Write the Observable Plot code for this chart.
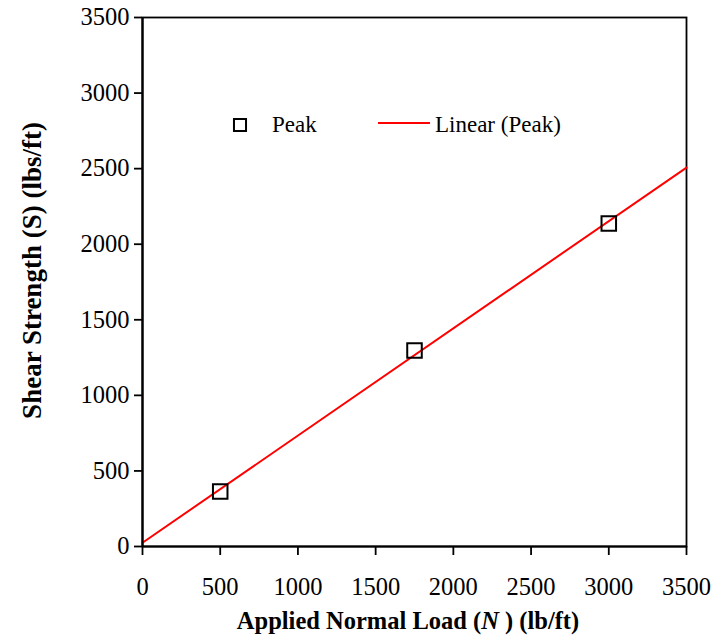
<!DOCTYPE html>
<html>
<head>
<meta charset="utf-8">
<script src="https://cdn.jsdelivr.net/npm/d3@7"></script>
<script src="https://cdn.jsdelivr.net/npm/@observablehq/plot@0.6"></script>
<style>
  html, body { margin: 0; padding: 0; background: #fff; overflow: hidden; }
  #chart svg { display: block; }
</style>
</head>
<body>
<div id="chart"></div>
<script>
// Direct shear test results: applied normal load vs. peak shear strength
const normalLoads = [500, 1750, 3000];      // lb/ft
const peakStrengths = [364, 1297, 2137];    // lbs/ft
const xTickValues = [0, 500, 1000, 1500, 2000, 2500, 3000, 3500];
const yTickValues = [0, 500, 1000, 1500, 2000, 2500, 3000, 3500];
const axisDomain = [0, 3500];

const peaks = normalLoads.map((n, i) => ({n, s: peakStrengths[i]}));

// Least-squares trendline, extended across the full load axis
const meanN = d3.mean(normalLoads);
const meanS = d3.mean(peakStrengths);
const slope = d3.sum(peaks, d => (d.n - meanN) * (d.s - meanS)) /
              d3.sum(peaks, d => (d.n - meanN) ** 2);
const intercept = meanS - slope * meanN;
const trend = axisDomain.map(n => ({n, s: intercept + slope * n}));

const serif = "'Liberation Serif', 'Times New Roman', serif";

const plot = Plot.plot({
  width: 725,
  height: 637,
  marginLeft: 142,
  marginRight: 39,
  marginTop: 17,
  marginBottom: 91,
  style: {fontFamily: serif, fontSize: "24.5px", color: "#000", background: "#fff"},
  x: {domain: axisDomain, ticks: xTickValues, label: null},
  y: {domain: axisDomain, ticks: yTickValues, label: null},
  marks: [
    Plot.frame({stroke: "#000", strokeWidth: 1.8}),
    Plot.line(trend, {x: "n", y: "s", stroke: "#ff0000", strokeWidth: 2}),
    Plot.dot(peaks, {x: "n", y: "s", symbol: "square", r: 8.2, stroke: "#000", strokeWidth: 2, fill: "none"}),
    Plot.axisX({ticks: xTickValues, tickSize: 9, tickPadding: 22, tickFormat: d => String(d), stroke: "#000", strokeWidth: 1.8, fontSize: 24.5}),
    Plot.axisY({ticks: yTickValues, tickSize: 8, tickPadding: 5, tickFormat: d => String(d), stroke: "#000", strokeWidth: 1.8, fontSize: 24.5}),
    Plot.ruleX([0], {stroke: "#000", strokeWidth: 2.2}),
    Plot.ruleY([0], {stroke: "#000", strokeWidth: 2.2})
  ]
});

document.getElementById("chart").appendChild(plot);

const svg = d3.select(plot);
const xs = plot.scale("x");
const ys = plot.scale("y");
const [x0, x1] = xs.range;
const [yBottom, yTop] = ys.range;

// Axis titles (bold, with italic symbol N)
const xTitle = svg.append("text")
  .attr("x", (x0 + x1) / 2 - 6)
  .attr("y", 629)
  .attr("text-anchor", "middle")
  .attr("font-family", serif)
  .attr("font-size", 24.5)
  .attr("font-weight", "bold")
  .attr("fill", "#000");
xTitle.append("tspan").text("Applied Normal Load (");
xTitle.append("tspan").attr("font-style", "italic").text("N");
xTitle.append("tspan").text(" ) (lb/ft)");

svg.append("text")
  .attr("transform", `translate(41,${(yBottom + yTop) / 2 - 11}) rotate(-90)`)
  .attr("text-anchor", "middle")
  .attr("font-family", serif)
  .attr("font-size", 27)
  .attr("font-weight", "bold")
  .attr("fill", "#000")
  .text("Shear Strength (S) (lbs/ft)");

// Legend inside the plot area
const legend = svg.append("g")
  .attr("font-family", serif)
  .attr("font-size", 23)
  .attr("text-anchor", "start")
  .attr("fill", "#000");
const ly = 124;
legend.append("path")
  .attr("d", d3.symbol(d3.symbolSquare, 6.8 * 6.8 * Math.PI)())
  .attr("transform", `translate(240,${ly + 1})`)
  .attr("fill", "none")
  .attr("stroke", "#000")
  .attr("stroke-width", 2);
legend.append("text").attr("x", 272).attr("y", ly + 8).text("Peak");
legend.append("line")
  .attr("x1", 378).attr("x2", 430).attr("y1", ly - 1).attr("y2", ly - 1)
  .attr("stroke", "#ff0000").attr("stroke-width", 2);
legend.append("text").attr("x", 435).attr("y", ly + 8).text("Linear (Peak)");
</script>
</body>
</html>
